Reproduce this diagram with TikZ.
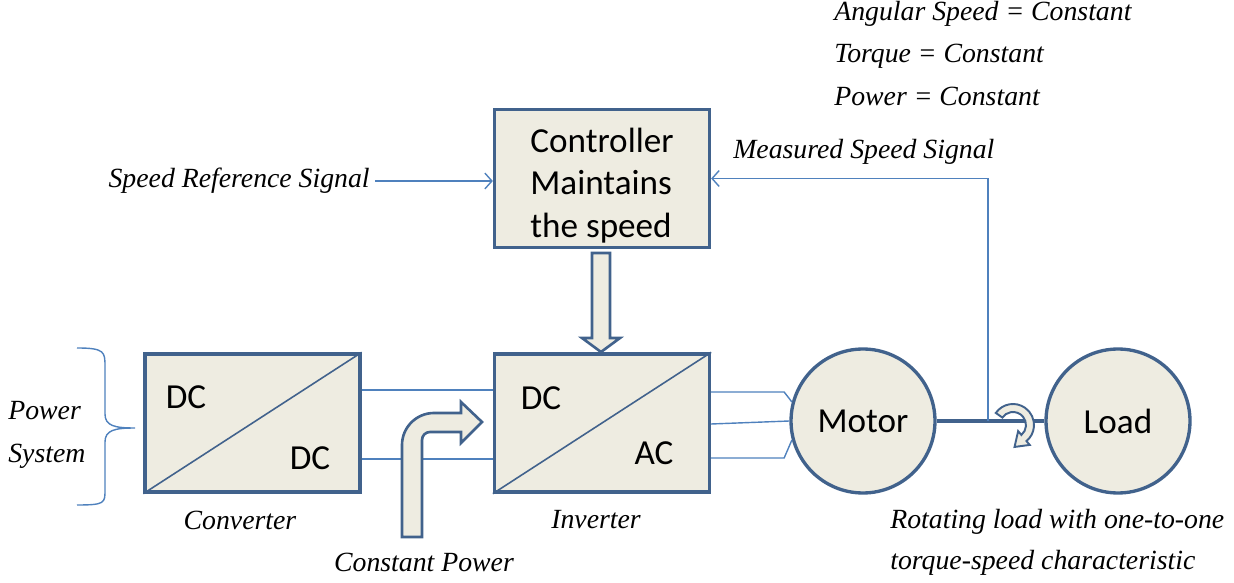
\documentclass[tikz,border=0pt]{standalone}
\usepackage{fontspec}
\setmainfont{Liberation Serif}
\newfontfamily\boxfont{Carlito}
\usetikzlibrary{arrows.meta, positioning, calc}

\definecolor{boxblue}{HTML}{41628C}
\definecolor{boxfill}{HTML}{EEECE1}
\definecolor{sigblue}{HTML}{4F81BD}

\begin{document}
\begin{tikzpicture}[
    x=0.02cm, y=0.02cm,
    block/.style={rectangle, draw=boxblue, fill=boxfill, line width=1.9pt, minimum width=4.3cm, minimum height=2.76cm, inner sep=0pt},
    machine/.style={circle, draw=boxblue, fill=boxfill, line width=1.9pt, minimum size=2.88cm, inner sep=0pt, font=\boxfont\fontsize{20}{24}\selectfont},
    sig/.style={draw=sigblue, line width=0.8pt},
    sigarrow/.style={sig, -{Straight Barb[length=4pt, width=9pt]}},
    hollow/.style={draw=boxblue, fill=boxfill, line width=1.5pt, line join=miter},
    lbl/.style={font=\itshape\fontsize{15.8}{19}\selectfont, inner sep=0pt},
    conv/.style={font=\boxfont\fontsize{20}{24}\selectfont, inner sep=0pt}
]
\useasboundingbox (0,0) rectangle (1234,582);

% Blocks
\node[block] (ctrl) at (602,403.5) {};
\node[conv, align=left, font=\boxfont\fontsize{20}{24.4}\selectfont] (ctrltext) at ([yshift=-4pt]ctrl.center) {Controller\\Maintains\\the speed};
\node[block] (conv) at (252.5,159) {};
\node[block] (inv) at (602,159) {};
\node[machine] (motor) at (863,161) {Motor};
\node[machine] (load) at (1118,161) {Load};

% Diagonals and converter labels
\draw[boxblue, line width=0.9pt] (conv.south west) -- (conv.north east);
\draw[boxblue, line width=0.9pt] (inv.south west) -- (inv.north east);
\node[conv] (convin) at (186,185) {DC};
\node[conv] (convout) at (310,124) {DC};
\node[conv] (invin) at (541,184) {DC};
\node[conv] (invout) at (654,129) {AC};

% DC link between converter and inverter
\draw[sig] ([yshift=0.66cm]conv.east) -- ([yshift=0.66cm]inv.west);
\draw[sig] ([yshift=-0.72cm]conv.east) -- ([yshift=-0.72cm]inv.west);

% Three phase lines to motor
\draw[sig] ([yshift=0.62cm]inv.east) -- ++(73,0) -- (motor.165);
\draw[sig] ([yshift=-0.02cm]inv.east) -- (motor.west);
\draw[sig] ([yshift=-0.7cm]inv.east) -- ++(73,0) -- (motor.195);

% Shaft and feedback
\draw[boxblue, line width=2.2pt] (motor.east) -- (load.west);
\coordinate (tap) at (988,161);
\draw[sigarrow] (tap) |- (ctrl.east);

% Rotation of the shaft
\begin{scope}[shift={(1013,157)}]
\filldraw[hollow, line width=1.1pt] (145:21) arc[start angle=145, end angle=-50, radius=21]
    -- (-50:26) -- (-86:22) -- (-50:8) -- (-50:13)
    arc[start angle=-50, end angle=145, radius=13] -- cycle;
\end{scope}

% Control signal to inverter
\filldraw[hollow] (592,329) -- (610,329) -- (610,244) -- (620,244) -- (601,230)
    -- (582,244) -- (592,244) -- cycle;

% Constant power bent arrow
\filldraw[hollow] (402,45) -- (402,137) arc[start angle=180, end angle=90, radius=32]
    -- (461,169) -- (461,180) -- (482,160) -- (461,139) -- (461,150) -- (430,150)
    arc[start angle=90, end angle=180, radius=8] -- (422,45) -- cycle;

% Power system brace
\draw[sigblue, line width=0.8pt] (77,234) .. controls (105,234) and (105,230) .. (105,215)
    -- (105,168) .. controls (105,156) and (115,154) .. (135,154)
    .. controls (115,154) and (105,152) .. (105,140)
    -- (105,92) .. controls (105,79) and (105,77) .. (77,77);

% Labels
\node[lbl, anchor=east] (refsig) at (370,401) {Speed Reference Signal};
\draw[sigarrow] (refsig.east) ++(5,0) -- (refsig.east -| ctrl.west);
\node[lbl, anchor=west] (meassig) at (733,430) {Measured Speed Signal};
\node[lbl, anchor=west] (ang) at (834,568) {Angular Speed = Constant};
\node[lbl, anchor=west] (trq) at (834,526) {Torque = Constant};
\node[lbl, anchor=west] (pwr) at (834,486) {Power = Constant};
\node[lbl, align=left, anchor=west, font=\itshape\fontsize{15.8}{24.5}\selectfont] (psys) at (8,147) {Power\\System};
\node[lbl] (convlbl) at (240,62) {Converter};
\node[lbl] (invlbl) at (596,62) {Inverter};
\node[lbl] (cpwr) at (424,20) {Constant Power};
\node[lbl, align=left, anchor=west, font=\itshape\fontsize{15.8}{23.5}\selectfont] (rot) at (890,40) {Rotating load with one-to-one\\torque-speed characteristic};

\end{tikzpicture}
\end{document}
